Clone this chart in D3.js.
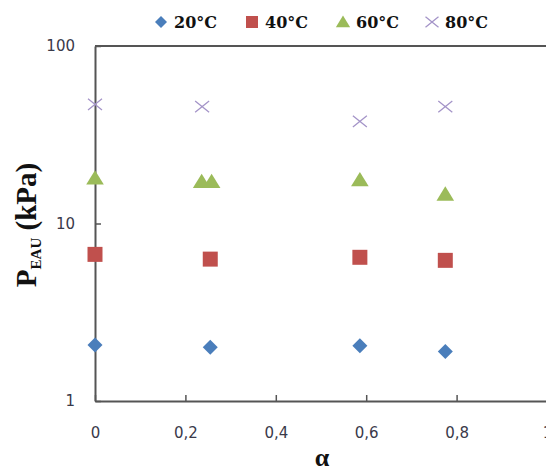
<!DOCTYPE html>
<html><head><meta charset="utf-8">
<script src="https://cdn.jsdelivr.net/npm/d3@7"></script>
<style>body{margin:0;background:#fff}svg{display:block}</style>
</head><body>
<script>
// Data
const seriesNames = ["20°C", "40°C", "60°C", "80°C"];
const alpha20 = [0, 0.255, 0.586, 0.775];
const p20 = [2.07, 2.01, 2.05, 1.90];
const alpha40 = [0, 0.255, 0.586, 0.775];
const p40 = [6.7, 6.3, 6.45, 6.2];
const alpha60 = [0, 0.236, 0.258, 0.586, 0.775];
const p60 = [18.0, 17.2, 17.2, 17.6, 14.6];
const alpha80 = [0, 0.237, 0.586, 0.775];
const p80 = [46.9, 45.5, 37.6, 45.5];
const xTicks = [0, 0.2, 0.4, 0.6, 0.8, 1];
const yTicks = [1, 10, 100];

const W = 546, H = 472;
const svg = d3.select("body").append("svg").attr("width", W).attr("height", H);
const x = d3.scaleLinear().domain([0, 1]).range([95, 547]);
const y = d3.scaleLog().domain([1, 100]).range([401, 46]);

const axisColor = "#555";
const labelColor = "#3a3a4a";

// frame
svg.append("line").attr("x1", x(0)).attr("x2", x(1)).attr("y1", y(100)).attr("y2", y(100))
  .attr("stroke", axisColor).attr("stroke-width", 2);
svg.append("line").attr("x1", x(1)).attr("x2", x(1)).attr("y1", y(100)).attr("y2", y(1))
  .attr("stroke", axisColor).attr("stroke-width", 2);

const xAxis = d3.axisBottom(x).tickValues(xTicks).tickSizeInner(-6).tickSizeOuter(0).tickPadding(26)
  .tickFormat(d => d === 0 ? "0" : d === 1 ? "1" : String(d).replace(".", ","));
const gx = svg.append("g").attr("transform", `translate(0,${y(1)})`).call(xAxis);
gx.select(".domain").attr("stroke", axisColor).attr("stroke-width", 2);
gx.selectAll(".tick line").attr("stroke", axisColor).attr("stroke-width", 1.5);
gx.selectAll("text").attr("fill", labelColor).attr("font-family", "DejaVu Sans").attr("font-size", 15);

const yAxis = d3.axisLeft(y).tickValues(yTicks).tickSizeInner(-6).tickSizeOuter(0).tickPadding(20)
  .tickFormat(d3.format("d"));
const gy = svg.append("g").attr("transform", `translate(${x(0)},0)`).call(yAxis);
gy.select(".domain").attr("stroke", axisColor).attr("stroke-width", 2);
gy.selectAll(".tick line").attr("stroke", axisColor).attr("stroke-width", 1.5);
gy.selectAll("text").attr("fill", labelColor).attr("font-family", "DejaVu Sans").attr("font-size", 15);

// axis titles
svg.append("text").attr("x", 322).attr("y", 466).attr("text-anchor", "middle")
  .attr("font-family", "Liberation Serif").attr("font-weight", "bold").attr("font-size", 26)
  .attr("fill", "#111").text("α");
const yt = svg.append("text").attr("transform", "translate(36,225) rotate(-90)").attr("text-anchor", "middle")
  .attr("font-family", "Liberation Serif").attr("font-weight", "bold").attr("font-size", 29).attr("fill", "#111");
yt.append("tspan").text("P");
yt.append("tspan").attr("font-size", 15).attr("dy", 5).text("EAU");
yt.append("tspan").attr("dy", -5).text(" (kPa)");

// markers
const colors = ["#4a7ebb", "#c0504d", "#9bbb59", "#a494c8"];
const diamond = s => `M0,${-s}L${s},0L0,${s}L${-s},0Z`;
const square = s => `M${-s},${-s}H${s}V${s}H${-s}Z`;
const tri = s => `M0,${-s}L${s*1.1},${s*0.8}L${-s*1.1},${s*0.8}Z`;
const cross = s => `M${-s},${-s*0.8}L${s},${s*0.8}M${-s},${s*0.8}L${s},${-s*0.8}`;

function pts(a, p) { return a.map((v, i) => ({a: v, p: p[i]})); }
const series = [
  {d: pts(alpha20, p20), path: diamond(7.5), fill: colors[0], stroke: "none"},
  {d: pts(alpha40, p40), path: square(7.5), fill: colors[1], stroke: "none"},
  {d: pts(alpha60, p60), path: tri(8), fill: colors[2], stroke: "none"},
  {d: pts(alpha80, p80), path: cross(7), fill: "none", stroke: colors[3]}
];
series.forEach(s => {
  svg.append("g").selectAll("path").data(s.d).join("path")
    .attr("transform", d => `translate(${x(d.a)},${y(d.p)})`)
    .attr("d", s.path).attr("fill", s.fill).attr("stroke", s.stroke).attr("stroke-width", 1.3);
});

// legend
const legX = [161, 252, 343, 432];
const legPaths = [diamond(6), square(6), tri(6.5), cross(6.5)];
seriesNames.forEach((n, i) => {
  const g = svg.append("g").attr("transform", `translate(${legX[i]},22)`);
  g.append("path").attr("d", legPaths[i]).attr("fill", i === 3 ? "none" : colors[i])
    .attr("stroke", i === 3 ? colors[3] : "none").attr("stroke-width", 1.3);
  g.append("text").attr("x", 13).attr("y", 6).attr("font-family", "DejaVu Serif")
    .attr("font-weight", "bold").attr("font-size", 16).attr("fill", "#111").text(n);
});
</script>
</body></html>
